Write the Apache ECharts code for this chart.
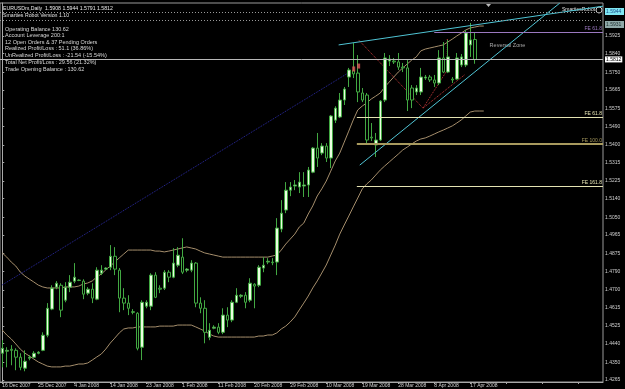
<!DOCTYPE html>
<html><head><meta charset="utf-8">
<script src="https://cdn.jsdelivr.net/npm/echarts@6/dist/echarts.min.js"></script>
<style>html,body{margin:0;padding:0;background:#000;}#c{width:625px;height:389px;}</style>
</head><body><div id="c"></div>
<script>
// ---- data ----
const dates = ['16 Dec 2007','17 Dec 2007','18 Dec 2007','19 Dec 2007','20 Dec 2007','21 Dec 2007','23 Dec 2007','24 Dec 2007','25 Dec 2007','26 Dec 2007','27 Dec 2007','28 Dec 2007','30 Dec 2007','31 Dec 2007',
'2 Jan 2008','3 Jan 2008','4 Jan 2008','6 Jan 2008','7 Jan 2008','8 Jan 2008','9 Jan 2008','10 Jan 2008','11 Jan 2008','13 Jan 2008','14 Jan 2008','15 Jan 2008','16 Jan 2008','17 Jan 2008','18 Jan 2008','20 Jan 2008','21 Jan 2008','22 Jan 2008','23 Jan 2008','24 Jan 2008','25 Jan 2008','27 Jan 2008','28 Jan 2008','29 Jan 2008','30 Jan 2008','31 Jan 2008',
'1 Feb 2008','3 Feb 2008','4 Feb 2008','5 Feb 2008','6 Feb 2008','7 Feb 2008','8 Feb 2008','10 Feb 2008','11 Feb 2008','12 Feb 2008','13 Feb 2008','14 Feb 2008','15 Feb 2008','17 Feb 2008','18 Feb 2008','19 Feb 2008','20 Feb 2008','21 Feb 2008','22 Feb 2008','24 Feb 2008','25 Feb 2008','26 Feb 2008','27 Feb 2008','28 Feb 2008','29 Feb 2008',
'2 Mar 2008','3 Mar 2008','4 Mar 2008','5 Mar 2008','6 Mar 2008','7 Mar 2008','9 Mar 2008','10 Mar 2008','11 Mar 2008','12 Mar 2008','13 Mar 2008','14 Mar 2008','16 Mar 2008','17 Mar 2008','18 Mar 2008','19 Mar 2008','20 Mar 2008','21 Mar 2008','23 Mar 2008','24 Mar 2008','25 Mar 2008','26 Mar 2008','27 Mar 2008','28 Mar 2008','31 Mar 2008',
'1 Apr 2008','2 Apr 2008','3 Apr 2008','4 Apr 2008','6 Apr 2008','7 Apr 2008','8 Apr 2008','9 Apr 2008','10 Apr 2008','11 Apr 2008','13 Apr 2008','14 Apr 2008','15 Apr 2008','16 Apr 2008','17 Apr 2008','18 Apr 2008'];

const opens = [1.4394,1.4404,1.4413,1.4408,1.4375,1.4322,1.4370,1.4375,1.4394,1.4408,1.4481,1.4607,1.4713,1.4722,1.4650,1.4713,1.4742,1.4747,1.4742,1.4684,
1.4703,1.4655,1.4780,1.4800,1.4809,1.4862,1.4795,1.4660,1.4636,1.4592,1.4587,1.4423,1.4621,1.4621,1.4771,1.4708,1.4708,1.4785,1.4761,1.4819,
1.4858,1.4795,1.4795,1.4829,1.4636,1.4611,1.4471,1.4515,1.4520,1.4495,1.4578,1.4554,1.4640,1.4669,1.4674,1.4650,1.4727,1.4722,1.4805,1.4834,
1.4834,1.4834,1.4993,1.5085,1.5181,1.5201,1.5196,1.5201,1.5206,1.5268,1.5384,1.5360,1.5394,1.5336,1.5519,1.5534,1.5616,1.5727,1.5758,1.5746,
1.5650,1.5640,1.5437,1.5399,1.5423,1.5616,1.5804,1.5804,1.5800,1.5775,1.5771,1.5674,1.5655,1.5655,1.5722,1.5727,1.5713,1.5698,1.5819,1.5751,
1.5717,1.5717,1.5785,1.5785,1.5882,1.5908];
const closes = [1.4418,1.4408,1.4408,1.4375,1.4326,1.4355,1.4375,1.4394,1.4399,1.4481,1.4611,1.4708,1.4732,1.4602,1.4713,1.4737,1.4761,1.4745,1.4679,1.4703,
1.4660,1.4795,1.4795,1.4805,1.4862,1.4800,1.4660,1.4636,1.4611,1.4594,1.4418,1.4640,1.4640,1.4771,1.4664,1.4703,1.4785,1.4761,1.4829,1.4867,
1.4785,1.4800,1.4829,1.4636,1.4611,1.4495,1.4505,1.4520,1.4495,1.4578,1.4554,1.4640,1.4674,1.4674,1.4640,1.4732,1.4718,1.4809,1.4819,1.4838,
1.4831,1.4998,1.5070,1.5181,1.5196,1.5206,1.5220,1.5206,1.5278,1.5384,1.5336,1.5394,1.5336,1.5539,1.5577,1.5616,1.5669,1.5761,1.5742,1.5655,
1.5616,1.5423,1.5433,1.5423,1.5611,1.5819,1.5814,1.5800,1.5775,1.5771,1.5616,1.5616,1.5674,1.5727,1.5727,1.5713,1.5698,1.5819,1.5751,1.5824,
1.5713,1.5819,1.5824,1.5940,1.5906,1.5812];
const lows = [1.4326,1.4326,1.4336,1.4312,1.4312,1.4307,1.4360,1.4370,1.4389,1.4404,1.4471,1.4602,1.4703,1.4568,1.4640,1.4689,1.4732,1.4742,1.4655,1.4674,
1.4636,1.4650,1.4771,1.4795,1.4795,1.4771,1.4592,1.4602,1.4578,1.4582,1.4408,1.4361,1.4611,1.4602,1.4660,1.4684,1.4699,1.4737,1.4756,1.4809,
1.4776,1.4785,1.4785,1.4616,1.4587,1.4442,1.4457,1.4510,1.4486,1.4486,1.4520,1.4544,1.4636,1.4660,1.4611,1.4640,1.4611,1.4713,1.4785,1.4824,
1.4819,1.4771,1.4978,1.5070,1.5152,1.5181,1.5167,1.5148,1.5148,1.5263,1.5293,1.5350,1.5317,1.5288,1.5505,1.5529,1.5592,1.5679,1.5722,1.5606,
1.5606,1.5408,1.5418,1.5341,1.5418,1.5606,1.5780,1.5790,1.5761,1.5751,1.5563,1.5577,1.5640,1.5640,1.5713,1.5703,1.5679,1.5688,1.5746,1.5746,
1.5698,1.5713,1.5775,1.5775,1.5824,1.5791];
const highs = [1.4457,1.4423,1.4433,1.4418,1.4394,1.4408,1.4384,1.4404,1.4404,1.4495,1.4636,1.4722,1.4742,1.4732,1.4737,1.4771,1.4829,1.4751,1.4751,1.4713,
1.4732,1.4809,1.4819,1.4809,1.4916,1.4906,1.4805,1.4708,1.4674,1.4607,1.4592,1.4650,1.4650,1.4780,1.4785,1.4722,1.4795,1.4795,1.4901,1.4906,
1.4949,1.4805,1.4843,1.4834,1.4664,1.4650,1.4539,1.4529,1.4539,1.4611,1.4616,1.4650,1.4708,1.4679,1.4689,1.4756,1.4732,1.4819,1.4858,1.4853,
1.4853,1.5046,1.5133,1.5220,1.5220,1.5230,1.5268,1.5268,1.5293,1.5389,1.5457,1.5408,1.5408,1.5544,1.5586,1.5650,1.5679,1.5771,1.5891,1.5833,
1.5674,1.5650,1.5505,1.5457,1.5616,1.5843,1.5833,1.5819,1.5843,1.5795,1.5809,1.5688,1.5688,1.5771,1.5737,1.5737,1.5737,1.5857,1.5896,1.5906,
1.5727,1.5843,1.5838,1.5954,1.5988,1.5944];

const upperBand = [1.4878,1.4858,1.4834,1.4815,1.4786,1.4767,1.4752,1.4738,1.4723,1.4714,1.4709,1.4709,1.4709,1.4709,1.4714,1.4714,1.4714,1.4718,1.4728,1.4733,
1.4743,1.4762,1.4776,1.4796,1.4815,1.4834,1.4854,1.4873,1.4892,1.4892,1.4892,1.4892,1.4892,1.4892,1.4887,1.4887,1.4883,1.4887,1.4892,1.4897,
1.4902,1.4907,1.4902,1.4897,1.4887,1.4878,1.4873,1.4868,1.4863,1.4858,1.4858,1.4858,1.4858,1.4858,1.4858,1.4858,1.4858,1.4858,1.4858,1.4858,
1.4863,1.4868,1.4892,1.4921,1.4945,1.4969,1.5003,1.5022,1.5066,1.5105,1.5153,1.5187,1.5225,1.5273,1.5322,1.5360,1.5413,1.5466,1.5520,1.5568,
1.5587,1.5602,1.5621,1.5635,1.5650,1.5679,1.5703,1.5727,1.5751,1.5771,1.5790,1.5809,1.5824,1.5853,1.5862,1.5867,1.5872,1.5877,1.5882,1.5896,
1.5910,1.5925,1.5939,1.5954,1.5964,1.5968,1.5973,1.5973];
const lowerBand = [1.4506,1.4482,1.4463,1.4439,1.4414,1.4395,1.4381,1.4366,1.4352,1.4342,1.4332,1.4328,1.4328,1.4328,1.4332,1.4332,1.4337,1.4342,1.4342,1.4347,
1.4361,1.4376,1.4390,1.4414,1.4443,1.4467,1.4492,1.4511,1.4516,1.4516,1.4521,1.4521,1.4521,1.4521,1.4521,1.4525,1.4525,1.4525,1.4525,1.4530,
1.4530,1.4530,1.4530,1.4521,1.4511,1.4501,1.4487,1.4477,1.4472,1.4472,1.4472,1.4472,1.4472,1.4472,1.4472,1.4472,1.4472,1.4477,1.4477,1.4482,
1.4482,1.4492,1.4511,1.4525,1.4545,1.4569,1.4603,1.4636,1.4670,1.4709,1.4743,1.4781,1.4820,1.4868,1.4916,1.4969,1.5013,1.5056,1.5100,1.5143,
1.5187,1.5211,1.5230,1.5254,1.5278,1.5298,1.5317,1.5336,1.5355,1.5375,1.5389,1.5404,1.5418,1.5428,1.5433,1.5442,1.5452,1.5462,1.5471,1.5481,
1.5491,1.5505,1.5520,1.5539,1.5558,1.5563,1.5563,1.5563];

const yTicks = [1.5925,1.5840,1.5750,1.5665,1.5575,1.5490,1.5400,1.5315,1.5225,1.5140,1.5050,1.4965,1.4875,1.4790,1.4700,1.4615,1.4525,1.4440,1.4350,1.4265];

// drawn objects, in [bar index, price]
const upperTrend = [[74.75,1.5882],[133.5,1.6069]];
const lowerTrend = [[79.45,1.5302],[123.9,1.6084]];
const blueDotted = [[-0.05,1.4723],[77.2,1.5751]];
const redDotted = [[[79.2,1.5906],[93.5,1.5577]],[[93.5,1.5577],[98.9,1.5761]],[[98.9,1.5761],[98.9,1.5915]],[[93.5,1.5577],[102.7,1.5737]]];
const fibLevels = [
  {name:'FE 61.8', price:1.5944, from:96.0, color:'#9b78c0', width:1},
  {name:'FE 61.8', price:1.5534, from:78.8, color:'#e4e2b2', width:1},
  {name:'FE 100.0', price:1.5404, from:78.8, color:'#a89a5e', width:2},
  {name:'FE 161.8', price:1.5201, from:78.8, color:'#e4e2b2', width:1}
];
const bidPrice = 1.5812;
const orderLines = [1.6038, 1.6002];
const sellMarks = [[78.1,1.5766],[79.2,1.5780]];
const infoLines = ['Operating Balance 130.62','Account Leverage 200:1','12 Open Orders & 37 Pending Orders','Realized Profit/Loss : 51.1 (36.86%)','UnRealized Profit/Loss : -21.54 (-15.54%)'];
const infoLines2 = ['Total Net Profit/Loss : 29.56 (21.32%)','Trade Opening Balance : 130.62'];

// ---- chart ----
const N = 134;
const cats = dates.slice();
while (cats.length < N) cats.push('');
const FONT = '"Liberation Sans", Arial, sans-serif';
const txt = '#d8d8d8';

const chart = echarts.init(document.getElementById('c'), null, {renderer:'canvas'});

const series = [];
series.push({type:'line', data: upperBand, xAxisIndex:0, showSymbol:false, silent:true, lineStyle:{color:'#a58e6c', width:1}, z:1});
series.push({type:'line', data: lowerBand, xAxisIndex:0, showSymbol:false, silent:true, lineStyle:{color:'#a58e6c', width:1}, z:1});
series.push({type:'candlestick', xAxisIndex:0, barWidth:3,
  data: dates.map((d,i)=>[opens[i],closes[i],lows[i],highs[i]]),
  itemStyle:{color:'#eafee0', color0:'#000000', borderColor:'#42a842', borderColor0:'#42a842', borderWidth:1}, z:3});

function seg(pts, color, type, width, z){
  series.push({type:'line', xAxisIndex:1, data:pts, showSymbol:false, silent:true, animation:false,
    lineStyle:{color:color, type:type, width:width||1}, z:z||2});
}
seg(upperTrend, '#4fc4d4', 'solid', 1, 4);
seg(lowerTrend, '#4fc4d4', 'solid', 1, 4);
seg(blueDotted, '#2a2aa0', 'dotted', 1, 2);
redDotted.forEach(p=>seg(p, '#c83a3a', 'dotted', 1, 2));

const ml = [];
fibLevels.forEach(f=>{
  ml.push([{coord:[f.from,f.price], lineStyle:{color:f.color,width:f.width,type:'solid'},
    label:{show:true, position:'insideEndTop', formatter:f.name, color:f.color, fontSize:5, fontFamily:FONT, distance:1}},
    {coord:[133.5,f.price]}]);
});
orderLines.forEach(v=>{
  ml.push([{coord:[-0.5,v], lineStyle:{color:'#9a9a9a',width:1,type:[1,2]}, label:{show:false}}, {coord:[133.5,v]}]);
});
ml.push([{coord:[-0.5,bidPrice], lineStyle:{color:'#b8b8b8',width:1,type:'solid'},
  label:{show:true, position:'end', formatter:'1.5812', color:'#000', backgroundColor:'#ffffff', fontSize:5, fontFamily:FONT, padding:[1,1,0,1], distance:2}},
  {coord:[133.5,bidPrice]}]);

series.push({type:'scatter', xAxisIndex:1, data:sellMarks, symbol:'rect', symbolSize:[3,5], itemStyle:{color:'#e05a5a'}, silent:true, z:5,
  markLine:{symbol:['none','none'], silent:true, animation:false, data:ml}});
series.push({type:'scatter', xAxisIndex:1, data:[[108.3,1.5877]], symbolSize:0, silent:true,
  label:{show:true, position:'right', formatter:'Reversal Zone', color:'#cfcfcf', fontSize:5.5, fontFamily:FONT, distance:0}});

const gText = (x,y,s,fill,size)=>({type:'text', x:x, y:y, silent:true, style:{text:s, fill:fill||txt, font:(size||5)+'px '+FONT, textVerticalAlign:'middle'}});
const graphic = [
  gText(3,9,'EURUSDm,Daily  1.5908 1.5944 1.5791 1.5812','#e8e8e8',5.2),
  gText(3,16,'Smarties Robot Version 1.10','#e0e0e0',5.2),
];
infoLines.forEach((s,k)=>graphic.push(gText(5,29+k*6.6,s,txt,5.5)));
infoLines2.forEach((s,k)=>graphic.push(gText(5,62.5+k*6.8,s,txt,5.5)));
graphic.push(gText(562,10,'SmartiesRobot','#e0e0e0',5));
graphic.push({type:'circle', shape:{cx:599,cy:10,r:3}, style:{fill:'none',stroke:'#d0d0d0',lineWidth:1}, silent:true});
graphic.push({type:'rect', shape:{x:605,y:8,width:19,height:7}, style:{fill:'#7fe6f2'}, silent:true});
graphic.push(gText(606,11.5,'1.5944','#1a4a8a',5));
graphic.push({type:'rect', shape:{x:605,y:21,width:19,height:7}, style:{fill:'#8fa8a8'}, silent:true});
graphic.push(gText(606,24.5,'1.5931','#203030',5));
graphic.push({type:'polygon', shape:{points:[[486,4],[491,4],[488.5,7]]}, style:{fill:'#bbbbbb'}, silent:true});

chart.setOption({
  backgroundColor:'#000000',
  animation:false,
  grid:{left:0, right:22, top:3, bottom:7, containLabel:false, outerBoundsMode:'none', show:true, borderColor:'#9a9a9a', borderWidth:1},
  xAxis:[
    {type:'category', data:cats, boundaryGap:true,
      axisLine:{show:true, lineStyle:{color:'#a8a8a8'}},
      axisTick:{show:true, interval:7, alignWithLabel:true, length:2, lineStyle:{color:'#a8a8a8'}},
      axisLabel:{interval:7, align:'left', color:'#cfcfcf', fontSize:5, fontFamily:FONT, margin:1.5},
      splitLine:{show:false}},
    {type:'value', min:-0.5, max:N-0.5, show:false}
  ],
  yAxis:{type:'value', position:'right', min:1.42552, max:1.60843,
    splitLine:{show:false},
    axisLine:{show:true, lineStyle:{color:'#a8a8a8'}},
    axisTick:{show:true, customValues:yTicks, length:2, lineStyle:{color:'#a8a8a8'}},
    axisLabel:{customValues:yTicks, formatter:v=>v.toFixed(4), color:'#cfcfcf', fontSize:5, fontFamily:FONT, margin:2}},
  graphic: graphic,
  series: series
});
</script></body></html>
